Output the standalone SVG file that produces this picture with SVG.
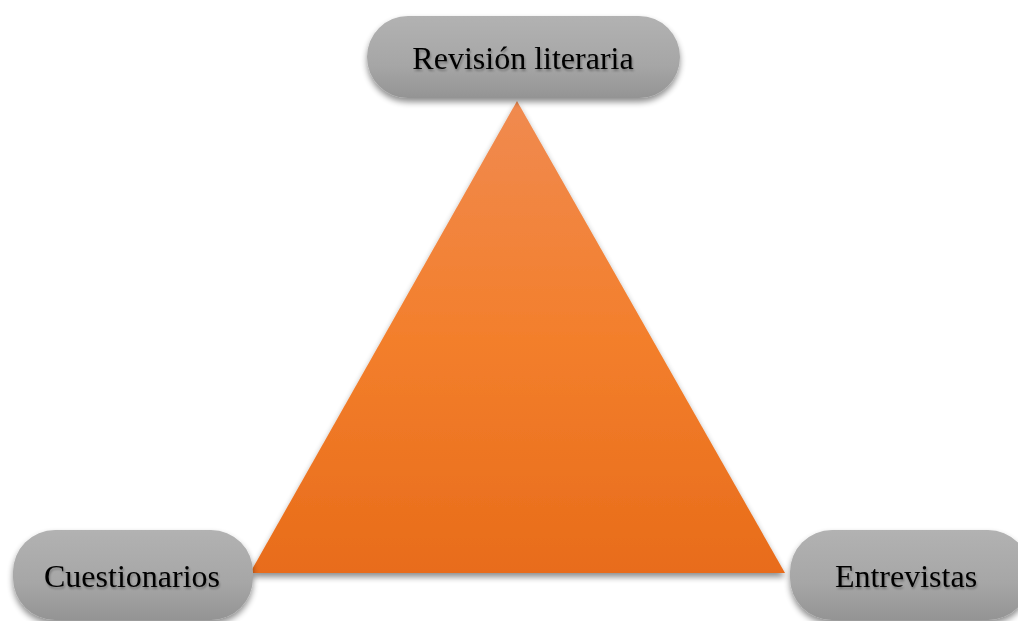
<svg xmlns="http://www.w3.org/2000/svg" width="1018" height="621" viewBox="0 0 1018 621">
<defs>
<linearGradient id="gTri" x1="0" y1="0" x2="0" y2="1">
<stop offset="0" stop-color="#f08a50"/>
<stop offset="0.5" stop-color="#f37f2c"/>
<stop offset="1" stop-color="#e86c1a"/>
</linearGradient>
<linearGradient id="gPill" x1="0" y1="0" x2="0" y2="1">
<stop offset="0" stop-color="#b2b2b2"/>
<stop offset="0.6" stop-color="#a6a6a6"/>
<stop offset="1" stop-color="#949494"/>
</linearGradient>
<filter id="sh" x="-20%" y="-20%" width="140%" height="150%">
<feGaussianBlur in="SourceAlpha" stdDeviation="3"/>
<feOffset dx="0" dy="4" result="b"/>
<feComponentTransfer><feFuncA type="linear" slope="0.45"/></feComponentTransfer>
<feMerge><feMergeNode/><feMergeNode in="SourceGraphic"/></feMerge>
</filter>
<filter id="tsh" x="-10%" y="-20%" width="120%" height="150%">
<feGaussianBlur in="SourceAlpha" stdDeviation="1"/>
<feOffset dx="1" dy="1.5" result="b"/>
<feComponentTransfer><feFuncA type="linear" slope="0.3"/></feComponentTransfer>
<feMerge><feMergeNode/><feMergeNode in="SourceGraphic"/></feMerge>
</filter>
</defs>
<style>
.pill{fill:url(#gPill);filter:url(#sh)}
.lbl{font-family:"Liberation Serif","Times New Roman",serif;font-size:32px;fill:#000;text-anchor:middle;dominant-baseline:central;filter:url(#tsh)}
</style>
<rect width="1018" height="621" fill="#ffffff"/>
<g id="connectors">
<polygon points="517,101 785,573 250,573" fill="url(#gTri)" filter="url(#sh)"/>
</g>
<g id="node-revision">
<rect class="pill" x="367" y="16" width="313" height="82" rx="41"/>
<text class="lbl" x="523" y="58">Revisión literaria</text>
</g>
<g id="node-cuestionarios">
<rect class="pill" x="13" y="530" width="240" height="90" rx="42"/>
<text class="lbl" x="132" y="576">Cuestionarios</text>
</g>
<g id="node-entrevistas">
<rect class="pill" x="790" y="530" width="240" height="90" rx="42"/>
<text class="lbl" x="906" y="576">Entrevistas</text>
</g>
</svg>
